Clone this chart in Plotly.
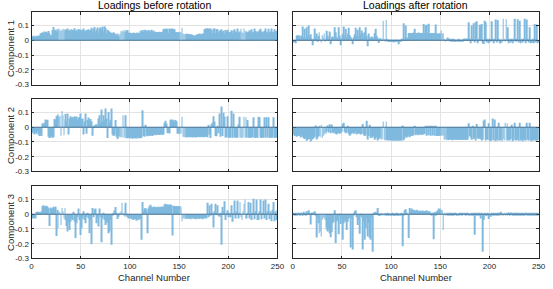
import plotly.graph_objects as go

# ---------------- data ----------------
c1_before = [
    0.025, 0.03, 0.028, 0.022, 0.03, 0.026, 0.033, 0.029, 0.045, 0.05,
    0.055, 0.048, 0.06, 0.052, 0.058, 0.05, 0.062, 0.047, 0.03, 0.035,
    0.07, 0.09, 0.065, 0.072, 0.06, 0.075, 0.068, 0.08, 0.062, 0.071,
    0.066, 0.078, 0.07, 0.058, 0.074, 0.069, 0.08, 0.065, 0.072, 0.061,
    0.075, 0.068, 0.07, 0.082, 0.063, 0.071, 0.06, 0.077, 0.069, 0.073,
    0.064, 0.07, 0.08, 0.066, 0.058, 0.072, 0.068, 0.075, 0.062, 0.07,
    0.085, 0.06, 0.078, 0.09, 0.055, 0.072, 0.087, 0.05, 0.079, 0.088,
    0.07, 0.091, 0.06, 0.095, 0.083, 0.045, 0.072, 0.065, 0.058, 0.052,
    0.05, 0.045, 0.055, 0.048, 0.04, 0.033, 0.045, 0.028, 0.038, 0.042,
    0.062, 0.058, 0.068, 0.06, 0.072, 0.055, 0.065, 0.07, 0.05, 0.052,
    0.048, 0.05, 0.047, 0.053, 0.045, 0.05, 0.048, 0.052, 0.046, 0.05,
    0.065, 0.06, 0.07, 0.058, 0.072, 0.062, 0.068, 0.055, 0.07, 0.064,
    0.06, 0.071, 0.058, 0.066, 0.055, 0.057, 0.054, 0.056, 0.055, 0.058,
    0.056, 0.055, 0.057, 0.076, 0.078, 0.075, 0.08, 0.077, 0.05, 0.079,
    0.076, 0.078, 0.08, 0.077, 0.075, 0.055, 0.054, 0.056, 0.053, 0.055,
    0.058, 0.055, 0.085, 0.045, 0.043, 0.04, 0.045, 0.042, 0.044, 0.04,
    0.042, 0.038, 0.04, 0.036, 0.033, 0.03, 0.034, 0.038, 0.04, 0.042,
    0.045, 0.04, 0.043, 0.045, 0.044, 0.075, 0.08, 0.078, 0.082, 0.077,
    0.08, 0.079, 0.07, 0.05, 0.078, 0.08, 0.048, 0.076, 0.075, 0.05,
    0.062, 0.07, 0.075, 0.055, 0.065, 0.048, 0.07, 0.06, 0.072, 0.058,
    0.052, 0.056, 0.068, 0.05, 0.064, 0.075, 0.055, 0.06, 0.08, 0.052,
    0.058, 0.062, 0.078, 0.055, 0.05, 0.08, 0.06, 0.065, 0.052, 0.058,
    0.055, 0.068, 0.06, 0.075, 0.05, 0.058, 0.08, 0.062, 0.055, 0.06,
    0.058, 0.07, 0.078, 0.055, 0.06, 0.052, 0.065, 0.08, 0.058, 0.05,
    0.078, 0.055, 0.06, 0.08, 0.058, 0.052, 0.075, 0.06, 0.065, 0.058,
]

c1_after = [
    -0.015, -0.01, -0.02, 0.03, 0.035, 0.028, 0.033, 0.01, 0.03, 0.093,
    0.02, 0.078, 0.015, 0.089, 0.03, 0.1, 0.025, 0.04, 0.01, -0.033,
    0.005, 0.08, 0.02, 0.045, -0.01, 0.03, 0.055, 0.01, -0.015, 0.035,
    0.02, 0.045, -0.01, 0.015, 0.065, 0.03, 0.01, 0.06, -0.027, 0.02,
    0.025, 0.015, 0.089, 0.055, 0.02, 0.01, 0.089, 0.03, -0.033, 0.015,
    0.04, 0.093, 0.03, 0.078, 0.02, 0.045, 0.085, 0.035, 0.022, 0.01,
    -0.027, 0.02, 0.04, 0.085, 0.03, 0.071, 0.025, 0.089, 0.04, 0.067,
    0.05, 0.02, 0.055, 0.089, 0.03, -0.04, 0.045, 0.02, 0.01, 0.025,
    0.022, 0.01, 0.049, 0.078, 0.03, 0.015, -0.018, 0.005, 0.018, 0.01,
    0.005, 0.133, 0.01, -0.005, 0.138, 0.005, -0.01, -0.008, -0.012, -0.01,
    -0.01, -0.008, -0.015, -0.01, -0.012, -0.005, -0.01, -0.027, -0.01, -0.008,
    0.011, 0.005, 0.115, 0.01, 0.1, 0.02, 0.005, 0.05, 0.045, 0.05,
    0.05, 0.048, 0.052, 0.078, 0.05, 0.047, 0.05, 0.053, 0.049, 0.05,
    0.05, 0.048, 0.11, 0.05, 0.1, 0.105, 0.05, 0.112, 0.045, 0.05,
    0.048, 0.05, 0.045, 0.05, 0.107, 0.045, 0.046, 0.044, 0.047, 0.045,
    0.067, 0.045, 0.048, 0.005, -0.005, 0.01, -0.003, 0.018, 0.005, 0.011,
    -0.008, 0.005, -0.01, 0.004, -0.005, -0.01, 0.003, -0.007, 0.005, -0.01,
    -0.005, 0.003, -0.008, 0.01, 0.012, 0.01, 0.011, 0.01, 0.122, 0.012,
    -0.02, 0.1, 0.01, 0.115, -0.015, 0.122, 0.129, -0.02, 0.01, 0.105,
    0.1, 0.11, -0.02, -0.025, 0.133, 0.122, -0.015, 0.01, -0.02, 0.005,
    -0.01, 0.129, 0.005, -0.02, 0.01, 0.14, -0.015, 0.138, 0.005, -0.02,
    -0.02, 0.01, -0.015, 0.145, 0.005, -0.01, 0.142, 0.01, 0.089, -0.02,
    0.005, -0.015, 0.01, -0.02, 0.005, 0.145, -0.01, 0.01, 0.142, -0.015,
    0.133, -0.02, 0.01, -0.015, 0.005, 0.145, -0.02, 0.14, 0.005, -0.015,
    0.089, -0.02, -0.018, 0.01, -0.02, 0.111, -0.015, 0.107, -0.02, -0.018,
]

c2_before = [
    -0.04, -0.03, -0.05, -0.035, -0.045, -0.025, -0.05, -0.06, -0.055, -0.06,
    0.027, 0.02, 0.03, 0.053, 0.045, 0.05, -0.065, -0.073, -0.07, -0.06,
    -0.072, -0.068, 0.055, 0.05, 0.075, 0.08, 0.089, 0.07, 0.078, -0.058,
    0.11, 0.082, -0.055, 0.05, 0.089, 0.04, 0.093, -0.05, 0.06, 0.075,
    0.065, 0.07, 0.06, 0.075, 0.068, 0.072, 0.05, 0.065, 0.07, 0.093,
    0.055, 0.06, -0.05, 0.04, 0.093, -0.045, 0.05, 0.066, 0.045, 0.055,
    0.04, -0.058, 0.01, 0.005, 0.016, 0.02, 0.01, 0.06, 0.082, 0.03,
    0.12, 0.04, 0.082, 0.05, 0.127, 0.06, -0.073, 0.104, 0.03, 0.05,
    0.127, -0.05, -0.06, -0.055, 0.049, -0.065, -0.08, -0.06, -0.07, -0.065,
    -0.068, -0.07, 0.082, -0.072, -0.07, 0.082, -0.075, -0.073, -0.075, -0.072,
    -0.075, -0.073, -0.078, -0.072, -0.075, -0.074, -0.076, -0.07, -0.075, -0.073,
    -0.075, -0.072, 0.115, -0.06, -0.065, 0.016, -0.058, -0.062, -0.055, -0.06,
    -0.058, -0.055, -0.06, -0.052, -0.05, -0.055, -0.048, -0.052, -0.05, -0.053,
    -0.05, -0.048, -0.052, -0.05, 0.03, 0.044, 0.025, -0.04, -0.038, -0.042,
    0.05, 0.053, 0.045, 0.05, 0.035, 0.049, 0.04, -0.045, -0.04, -0.048,
    -0.042, -0.045, 0.071, -0.065, -0.067, -0.068, -0.066, -0.07, -0.065, -0.068,
    -0.066, -0.068, -0.065, -0.07, -0.067, -0.066, -0.069, -0.065, -0.068, -0.067,
    -0.066, -0.068, -0.065, -0.067, -0.068, -0.066, -0.065, -0.067, -0.068, 0.015,
    -0.05, -0.073, 0.02, 0.031, 0.075, 0.038, -0.06, -0.062, 0.01, -0.04,
    0.093, -0.065, 0.14, -0.06, 0.098, 0.071, -0.07, -0.069, 0.075, -0.068,
    -0.073, -0.07, 0.111, -0.072, 0.093, -0.07, -0.068, -0.073, -0.07, 0.02,
    0.071, -0.07, -0.073, -0.072, -0.07, 0.071, -0.07, 0.067, -0.072, 0.049,
    -0.07, -0.073, -0.072, -0.07, -0.068, 0.067, -0.071, -0.073, -0.07, -0.072,
    0.071, 0.067, -0.07, -0.073, -0.072, -0.07, 0.067, -0.072, 0.067, -0.07,
    0.067, -0.073, -0.07, -0.072, -0.07, 0.067, -0.073, -0.07, -0.072, -0.07,
]

c2_after = [
    -0.05, -0.06, -0.055, -0.065, -0.06, -0.05, -0.06, -0.07, -0.055, -0.065,
    -0.075, -0.08, -0.07, -0.091, -0.085, -0.078, -0.08, -0.096, -0.085, -0.08,
    -0.073, -0.065, 0.011, -0.084, -0.07, -0.06, 0.004, -0.065, 0.016, -0.073,
    -0.06, -0.05, -0.04, -0.045, -0.03, 0.011, -0.035, 0.02, -0.04, 0.018,
    -0.035, -0.04, -0.03, -0.045, -0.05, -0.04, -0.035, -0.045, -0.04, -0.03,
    0.022, 0.031, -0.03, -0.04, -0.035, 0.004, -0.045, -0.058, -0.05, -0.04,
    -0.036, -0.045, -0.04, -0.029, -0.05, -0.035, -0.045, -0.04, -0.05, -0.045,
    0.022, -0.05, -0.06, -0.055, 0.044, -0.084, -0.06, 0.016, -0.073, -0.065,
    -0.07, -0.06, -0.085, -0.075, -0.065, -0.09, -0.08, -0.07, -0.075, -0.085,
    -0.08, 0.038, -0.085, -0.09, 0.038, -0.088, -0.085, -0.09, -0.087, -0.09,
    -0.09, -0.092, -0.088, -0.09, -0.091, -0.089, -0.09, -0.092, -0.088, -0.09,
    -0.09, 0.011, -0.088, -0.075, -0.06, -0.07, -0.065, -0.055, -0.068, -0.06,
    -0.055, -0.06, -0.05, 0.004, -0.055, -0.048, -0.05, -0.055, -0.045, -0.05,
    -0.052, -0.048, -0.05, -0.045, 0.009, -0.058, 0.01, -0.055, 0.008, -0.058,
    0.009, -0.056, 0.01, -0.058, 0.007, -0.06, -0.058, -0.06, -0.055, -0.058,
    -0.06, -0.055, -0.058, -0.085, -0.08, -0.088, -0.085, -0.082, -0.087, -0.085,
    -0.083, -0.085, -0.088, -0.084, -0.082, -0.086, -0.085, -0.083, -0.087, -0.084,
    -0.085, -0.082, -0.086, -0.084, -0.085, -0.083, -0.086, -0.084, 0.027, -0.06,
    -0.07, -0.085, 0.005, -0.08, -0.07, -0.09, 0.022, -0.075, -0.08, -0.07,
    -0.08, -0.09, -0.085, 0.044, 0.053, -0.09, -0.08, -0.085, 0.027, -0.09,
    -0.095, -0.085, 0.06, -0.09, 0.053, -0.095, -0.08, -0.09, 0.031, -0.09,
    -0.085, -0.09, -0.095, -0.08, -0.09, 0.031, -0.088, 0.027, -0.09, -0.085,
    -0.09, -0.08, 0.016, -0.095, -0.085, 0.031, -0.09, -0.088, -0.08, -0.092,
    0.031, -0.09, -0.085, -0.095, -0.08, -0.088, -0.09, 0.031, -0.085, -0.09,
    0.031, -0.09, -0.095, -0.085, -0.09, -0.08, -0.092, -0.088, -0.09, -0.085,
]

c3_before = [
    -0.03, -0.028, -0.025, -0.03, 0.015, 0.018, 0.012, 0.015, 0.01, 0.02,
    0.055, 0.06, 0.05, 0.055, 0.058, 0.05, 0.04, -0.08, 0.045, 0.038,
    0.04, 0.05, 0.045, 0.052, -0.147, 0.03, -0.096, 0.02, 0.01, -0.073,
    0.042, 0.02, -0.03, 0.042, -0.04, -0.08, -0.118, -0.06, -0.107, -0.051,
    -0.03, -0.04, 0.016, -0.05, -0.162, -0.062, -0.02, 0.038, -0.04, -0.141,
    -0.096, -0.03, 0.02, -0.04, -0.062, -0.02, 0.004, -0.03, -0.129, -0.04,
    -0.202, 0.042, -0.02, 0.033, 0.038, -0.062, -0.03, -0.084, 0.038, -0.02,
    -0.191, -0.03, 0.004, -0.04, -0.073, -0.062, -0.05, -0.129, -0.118, -0.04,
    -0.207, -0.01, 0.01, 0.027, 0.049, 0.01, -0.033, -0.018, 0.005, 0.01,
    0.02, 0.078, 0.01, -0.01, -0.018, 0.078, -0.007, -0.02, -0.03, -0.025,
    -0.03, -0.035, -0.028, -0.04, -0.03, -0.035, -0.045, -0.03, -0.04, -0.035,
    -0.03, -0.173, 0.082, 0.02, 0.038, 0.042, 0.03, -0.129, 0.04, 0.055,
    0.064, 0.05, 0.045, 0.049, 0.052, 0.042, 0.048, 0.05, 0.045, 0.05,
    0.048, 0.05, 0.052, 0.047, 0.065, 0.07, 0.062, 0.068, 0.06, 0.065,
    0.066, 0.06, -0.145, 0.058, 0.055, 0.052, 0.055, 0.05, 0.056, 0.053,
    0.055, 0.05, -0.047, -0.03, -0.025, -0.035, -0.03, -0.028, -0.032, -0.025,
    -0.03, -0.035, -0.028, -0.03, -0.025, -0.032, -0.03, -0.035, -0.028, -0.03,
    -0.032, -0.028, -0.03, -0.035, -0.03, -0.025, -0.03, -0.028, 0.078, -0.02,
    0.06, -0.01, 0.071, 0.01, -0.091, 0.02, 0.071, 0.005, 0.06, -0.01,
    -0.018, 0.01, -0.207, 0.049, 0.02, 0.087, -0.04, 0.01, 0.027, -0.02,
    0.01, -0.02, 0.06, -0.051, 0.01, 0.093, -0.029, 0.02, 0.093, -0.03,
    0.01, 0.082, -0.02, -0.04, 0.02, 0.071, 0.1, -0.03, -0.029, 0.01,
    0.082, -0.03, 0.078, -0.04, 0.01, 0.104, -0.035, 0.02, 0.1, -0.04,
    -0.04, 0.02, 0.1, -0.035, 0.01, 0.093, -0.03, 0.1, -0.04, 0.02,
    0.071, -0.035, 0.02, -0.047, 0.03, 0.082, -0.047, 0.02, -0.04, 0.03,
]

c3_after = [
    0.005, -0.008, 0.01, -0.005, 0.008, 0.004, -0.01, 0.006, 0.01, -0.006,
    0.016, 0.005, -0.008, 0.02, 0.01, 0.027, 0.005, -0.069, 0.01, 0.004,
    0.011, 0.02, -0.01, -0.158, -0.02, -0.062, -0.129, -0.118, -0.151, -0.04,
    -0.024, -0.03, -0.04, -0.107, -0.09, -0.118, -0.1, -0.129, -0.156, -0.12,
    -0.062, -0.051, 0.027, -0.196, -0.05, -0.04, -0.136, -0.007, -0.067, -0.03,
    -0.173, -0.062, -0.04, -0.051, -0.107, -0.051, -0.03, -0.02, -0.225, -0.029,
    -0.24, -0.01, 0.02, 0.027, -0.02, -0.073, -0.04, -0.133, -0.007, -0.02,
    -0.24, -0.05, -0.173, -0.096, -0.03, -0.151, -0.06, -0.162, -0.173, -0.02,
    -0.255, 0.005, 0.011, 0.016, 0.005, 0.042, -0.005, -0.007, -0.013, 0.004,
    -0.005, 0.003, -0.004, 0.005, -0.01, -0.004, 0.006, -0.007, -0.003, -0.005,
    -0.008, 0.004, -0.01, -0.006, -0.004, 0.005, -0.008, -0.005, 0.003, -0.006,
    0.004, -0.218, -0.005, 0.027, 0.033, 0.01, -0.003, -0.162, 0.042, 0.02,
    0.038, 0.025, 0.03, 0.027, 0.02, 0.031, 0.024, 0.02, 0.025, 0.022,
    0.02, 0.025, 0.018, 0.022, 0.02, 0.027, 0.015, 0.02, 0.018, 0.01,
    -0.007, 0.01, -0.169, 0.015, -0.011, 0.02, 0.025, 0.038, 0.03, 0.038,
    0.03, 0.027, -0.107, 0.005, -0.008, 0.01, 0.004, -0.005, 0.008, -0.006,
    0.005, -0.004, 0.008, -0.006, 0.004, 0.006, -0.005, 0.003, -0.007, 0.005,
    0.004, -0.006, 0.008, -0.003, 0.005, -0.008, 0.004, 0.006, -0.005, 0.003,
    -0.006, 0.005, -0.008, 0.004, -0.14, 0.006, -0.004, 0.005, -0.007, 0.004,
    -0.029, 0.004, -0.255, -0.04, 0.008, -0.01, -0.007, 0.005, -0.033, -0.008,
    -0.018, 0.006, -0.01, 0.004, -0.006, 0.008, -0.005, 0.01, -0.004, 0.006,
    0.016, -0.006, 0.008, -0.01, 0.005, -0.004, 0.01, -0.008, 0.006, 0.012,
    -0.007, 0.011, 0.005, -0.01, 0.008, -0.006, 0.012, -0.004, 0.007, -0.009,
    0.006, -0.008, 0.01, -0.005, 0.007, -0.01, 0.004, 0.009, -0.006, 0.008,
    -0.01, 0.006, -0.008, 0.005, -0.009, 0.007, -0.006, 0.004, -0.01, 0.005,
]

series = [[c1_before, c1_after], [c2_before, c2_after], [c3_before, c3_after]]
col_titles = ["Loadings before rotation", "Loadings after rotation"]
row_titles = ["Component 1", "Component 2", "Component 3"]
x_label = "Channel Number"
x_ticks = [0, 50, 100, 150, 200, 250]
y_ticks = [-0.3, -0.2, -0.1, 0, 0.1]
y_tick_text = ["-0.3", "-0.2", "-0.1", "0", "0.1"]

# ---------------- layout ----------------
W, H = 553, 289
x_doms = [(30 / W, 280 / W), (295.5 / W, 545.5 / W)]
row_tops = [12, 100.5, 189]
row_h = 74
y_range = [-0.3, 0.193]

BAR = "#80b9de"
BASE = "#4a7597"
AXC = "#262626"
GRID = "#e3e3e3"
FONT = "Liberation Sans, Arial, Helvetica, sans-serif"

fig = go.Figure()
layout = dict(
    width=W, height=H, margin=dict(l=0, r=0, t=0, b=0),
    paper_bgcolor="white", plot_bgcolor="white",
    showlegend=False, bargap=0.1,
    font=dict(family=FONT, size=8, color=AXC),
)
shapes = []
annotations = []

for r in range(3):
    y0 = 1 - (row_tops[r] + row_h) / H
    y1 = 1 - row_tops[r] / H
    for c in range(2):
        idx = r * 2 + c + 1
        sx = "" if idx == 1 else str(idx)
        vals = series[r][c]
        fig.add_trace(go.Bar(
            x=list(range(1, len(vals) + 1)), y=vals,
            marker=dict(color=BAR, line=dict(width=0)),
            xaxis="x" + sx, yaxis="y" + sx, hoverinfo="skip",
        ))
        layout["xaxis" + sx] = dict(
            domain=list(x_doms[c]), anchor="y" + sx, range=[0, 250],
            tickvals=x_ticks, ticktext=[str(t) for t in x_ticks],
            showticklabels=(r == 2), ticks="inside", ticklen=3,
            tickcolor=AXC, showline=True, linecolor=AXC, linewidth=0.8,
            mirror="ticks", showgrid=True, gridcolor=GRID, gridwidth=1,
            zeroline=False, tickfont=dict(size=8, color=AXC),
        )
        layout["yaxis" + sx] = dict(
            domain=[y0, y1], anchor="x" + sx, range=y_range,
            tickvals=y_ticks, ticktext=y_tick_text,
            showticklabels=(c == 0), ticks="inside", ticklen=3,
            tickcolor=AXC, showline=True, linecolor=AXC, linewidth=0.8,
            mirror="ticks", showgrid=True, gridcolor=GRID, gridwidth=1,
            zeroline=False, tickfont=dict(size=8, color=AXC),
        )
        shapes.append(dict(
            type="line", xref="x" + sx, yref="y" + sx,
            x0=0, x1=250, y0=0, y1=0,
            line=dict(color=BASE, width=1), layer="above",
        ))
        if r == 0:
            annotations.append(dict(
                text=col_titles[c], x=(x_doms[c][0] + x_doms[c][1]) / 2,
                y=1 - 5 / H, xref="paper", yref="paper", showarrow=False,
                font=dict(size=10.5, color="#000000"), xanchor="center", yanchor="middle",
            ))
        if r == 2:
            annotations.append(dict(
                text=x_label, x=(x_doms[c][0] + x_doms[c][1]) / 2,
                y=1 - 282 / H, xref="paper", yref="paper", showarrow=False,
                font=dict(size=9.5, color=AXC), xanchor="center", yanchor="middle",
            ))
    annotations.append(dict(
        text=row_titles[r], x=8 / W, y=(y0 + y1) / 2,
        xref="paper", yref="paper", showarrow=False, textangle=-90,
        font=dict(size=9.5, color=AXC), xanchor="center", yanchor="middle",
    ))

layout["shapes"] = shapes
layout["annotations"] = annotations
fig.update_layout(**layout)
fig.write_html(
    "out.html",
    config={"displayModeBar": False, "responsive": False},
    post_script="document.body.style.margin='0';document.body.style.padding='0';",
)
